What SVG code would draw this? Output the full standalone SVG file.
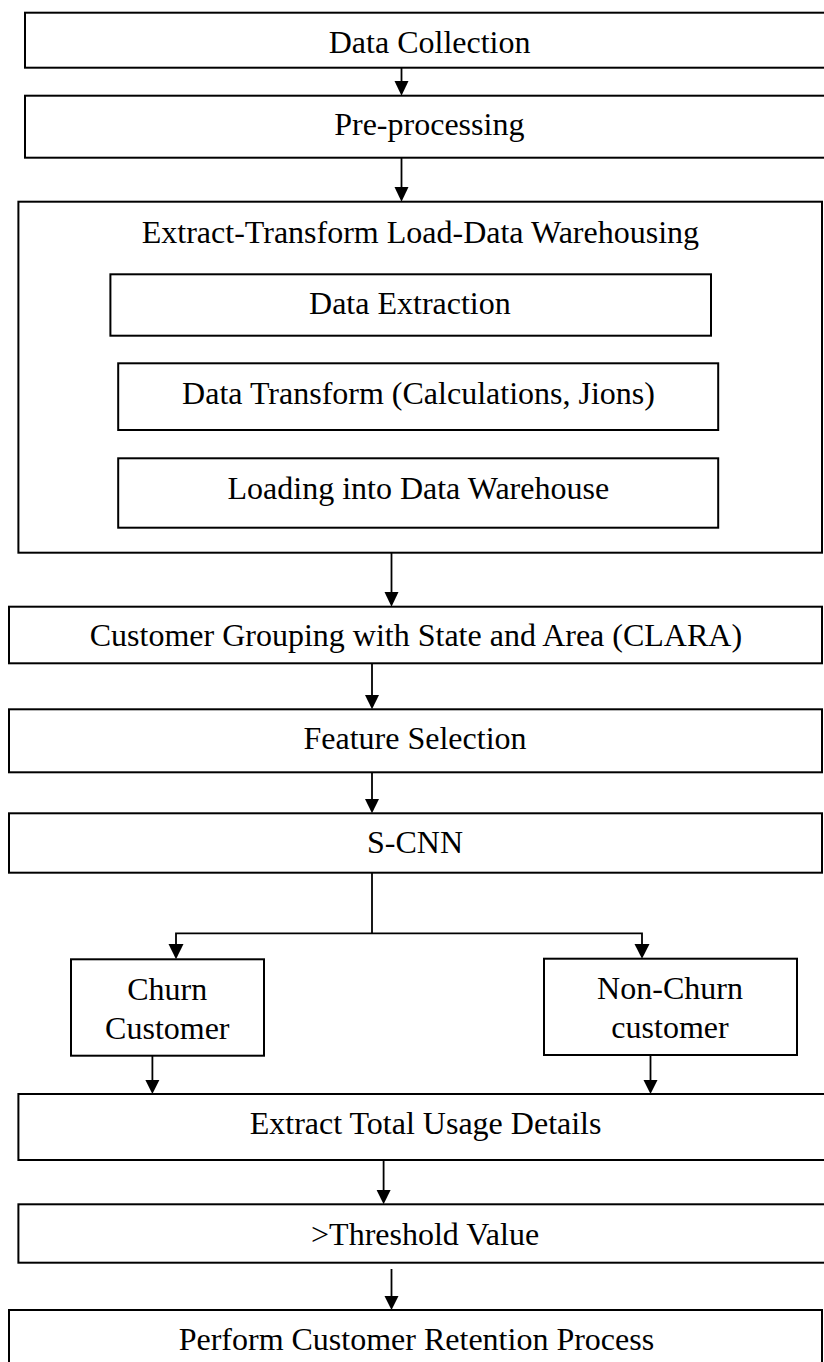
<svg xmlns="http://www.w3.org/2000/svg" width="824" height="1362" viewBox="0 0 824 1362">
<defs>
<style>
.box{fill:#fff;stroke:#000;stroke-width:2}
.t{font-family:"Liberation Serif","Times New Roman",serif;font-size:32px;fill:#000;text-anchor:middle}
.c{fill:none;stroke:#000;stroke-width:1.8}
.ar{fill:#000;stroke:none}
</style>
</defs>
<rect width="824" height="1362" fill="#fff"/>

<g id="n1"><rect class="box" x="25" y="12.7" width="810" height="55"/><text class="t" x="429.6" y="52.5">Data Collection</text></g>
<g id="n2"><rect class="box" x="25" y="95.7" width="810" height="62"/><text class="t" x="429.3" y="134.5">Pre-processing</text></g>
<g id="n3"><rect class="box" x="18.4" y="201.7" width="803.6" height="351"/><text class="t" x="420.4" y="242.7">Extract-Transform Load-Data Warehousing</text></g>
<g id="n3a"><rect class="box" x="110.4" y="274.3" width="600.6" height="61.4"/><text class="t" x="409.9" y="314">Data Extraction</text></g>
<g id="n3b"><rect class="box" x="118.2" y="363.3" width="600" height="66.7"/><text class="t" x="418.5" y="404">Data Transform (Calculations, Jions)</text></g>
<g id="n3c"><rect class="box" x="118.2" y="458.3" width="600" height="69.4"/><text class="t" x="418.3" y="499">Loading into Data Warehouse</text></g>
<g id="n4"><rect class="box" x="9" y="606.7" width="813" height="56.6"/><text class="t" x="415.9" y="646">Customer Grouping with State and Area (CLARA)</text></g>
<g id="n5"><rect class="box" x="9" y="709.3" width="813" height="63"/><text class="t" x="415" y="749">Feature Selection</text></g>
<g id="n6"><rect class="box" x="9" y="813.3" width="813" height="59.4"/><text class="t" x="415" y="852.5">S-CNN</text></g>
<g id="n7"><rect class="box" x="71" y="959.3" width="193" height="96.4"/><text class="t" x="167.2" y="999.5">Churn</text><text class="t" x="167.3" y="1038.5">Customer</text></g>
<g id="n8"><rect class="box" x="544" y="958.7" width="253" height="96.3"/><text class="t" x="670" y="999">Non-Churn</text><text class="t" x="670" y="1038">customer</text></g>
<g id="n9"><rect class="box" x="18.4" y="1094" width="820" height="66"/><text class="t" x="425.6" y="1134">Extract Total Usage Details</text></g>
<g id="n10"><rect class="box" x="18.4" y="1204.3" width="820" height="58.4"/><text class="t" x="425.1" y="1244.5">&gt;Threshold Value</text></g>
<g id="n11"><rect class="box" x="9" y="1310" width="813" height="60"/><text class="t" x="416.4" y="1350">Perform Customer Retention Process</text></g>

<g id="connectors">
<path class="c" d="M401.5,67.7 V82"/><path class="ar" d="M394.5,81 H408.5 L401.5,95.7 Z"/>
<path class="c" d="M401.5,157.7 V188"/><path class="ar" d="M394.5,187 H408.5 L401.5,201.7 Z"/>
<path class="c" d="M391.5,552.7 V593"/><path class="ar" d="M384.5,592 H398.5 L391.5,606.7 Z"/>
<path class="c" d="M372,663.3 V696"/><path class="ar" d="M365,695 H379 L372,709.3 Z"/>
<path class="c" d="M372,772.3 V800"/><path class="ar" d="M365,799 H379 L372,813.3 Z"/>
<path class="c" d="M372,872.7 V933.3"/>
<path class="c" d="M176,945 V933.3 H642 V945"/>
<path class="ar" d="M168.5,944 H183.5 L176,959.3 Z"/>
<path class="ar" d="M634.5,944 H649.5 L642,958.7 Z"/>
<path class="c" d="M152.4,1055.7 V1081"/><path class="ar" d="M145.4,1080 H159.4 L152.4,1094 Z"/>
<path class="c" d="M650.5,1055 V1081"/><path class="ar" d="M643.5,1080 H657.5 L650.5,1094 Z"/>
<path class="c" d="M383.6,1160 V1191"/><path class="ar" d="M376.6,1190 H390.6 L383.6,1204.3 Z"/>
<path class="c" d="M391.5,1269 V1297"/><path class="ar" d="M384.5,1296 H398.5 L391.5,1310 Z"/>
</g>
</svg>
